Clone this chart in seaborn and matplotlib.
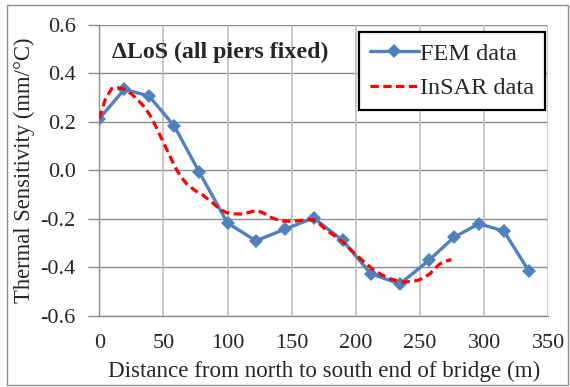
import matplotlib
matplotlib.use("Agg")
import matplotlib.pyplot as plt
import seaborn as sns
import pandas as pd
from matplotlib.patches import Rectangle

sns.set_theme(style="white")
plt.rcParams['font.family'] = ['Liberation Serif', 'DejaVu Serif']

# FEM data (distance m, thermal sensitivity mm/°C)
fem_x = [0, 19.6, 38.8, 58.4, 77.9, 100, 122, 145, 167, 189.6, 211.7, 234.3, 256.9, 276.4, 296, 315.3, 335]
fem_y = [0.213, 0.334, 0.306, 0.183, -0.007, -0.217, -0.290, -0.242, -0.196, -0.288, -0.426, -0.468, -0.371, -0.276, -0.220, -0.250, -0.416]

# InSAR data
insar_x = [0, 4.5, 9.6, 14.5, 19.5, 25, 30.4, 35, 39.5, 44, 48.6, 54, 59, 63.5, 68, 74.5, 81, 87.5, 94, 99,
           104.4, 112, 117.5, 122.6, 128, 133, 138, 143.4, 150, 158, 166.8, 172, 177, 183.5, 190, 195, 200.5,
           207, 213.5, 220, 226.5, 232, 237, 243, 248.6, 253, 257.7, 261.5, 265.5, 270, 274.5]
insar_y = [0.213, 0.290, 0.337, 0.340, 0.334, 0.315, 0.288, 0.262, 0.227, 0.182, 0.130, 0.070, 0.014, -0.025, -0.055, -0.083, -0.103, -0.130, -0.160, -0.174,
           -0.179, -0.180, -0.172, -0.165, -0.176, -0.192, -0.202, -0.209, -0.210, -0.206, -0.203, -0.222, -0.247, -0.270, -0.295, -0.322, -0.350,
           -0.380, -0.409, -0.430, -0.446, -0.455, -0.460, -0.458, -0.453, -0.442, -0.426, -0.405, -0.385, -0.374, -0.368]

x_ticks = [0, 50, 100, 150, 200, 250, 300, 350]
y_ticks = [-0.6, -0.4, -0.2, 0.0, 0.2, 0.4, 0.6]
y_tick_labels = ["-0.6", "-0.4", "-0.2", "0.0", "0.2", "0.4", "0.6"]
title_text = "ΔLoS (all piers fixed)"
x_label = "Distance from north to south end of bridge (m)"
y_label = "Thermal Sensitivity (mm/°C)"

W, H = 570, 387
L, R, T, B = 99.3, 548.3, 24.7, 316.0
fig = plt.figure(figsize=(W / 100, H / 100), dpi=100)
ax = fig.add_axes([L / W, 1 - B / H, (R - L) / W, (B - T) / H])

fem_df = pd.DataFrame({"x": fem_x, "y": fem_y})
insar_df = pd.DataFrame({"x": insar_x, "y": insar_y})

sns.lineplot(data=fem_df, x="x", y="y", ax=ax, color="#4F81BD", linewidth=2.4,
             marker="D", markersize=7.5, markeredgewidth=0, label="FEM data", sort=False, zorder=3)
sns.lineplot(data=insar_df, x="x", y="y", ax=ax, color="#FF0000", linewidth=2.3,
             linestyle=(0, (2.6, 1.4)), label="InSAR data", sort=False, zorder=4)

ax.set_xlim(0, 350)
ax.set_ylim(-0.6, 0.6)
ax.set_xticks(x_ticks)
ax.set_xticklabels([str(v) for v in x_ticks])
ax.set_yticks(y_ticks)
ax.set_yticklabels(y_tick_labels)

ax.grid(False)
for yv in y_ticks:
    ax.axhline(yv, color="#8c8c8c", linewidth=1.0, zorder=1)
for xv in x_ticks:
    ax.axvline(xv, color="#bdbdbd", linewidth=1.2, zorder=1)

for s in ["top", "right"]:
    ax.spines[s].set_visible(False)
for s in ["left", "bottom"]:
    ax.spines[s].set_color("#8c8c8c")
    ax.spines[s].set_linewidth(1.0)

ax.tick_params(axis="y", which="major", length=8, width=1.0, color="#8c8c8c", pad=9, labelsize=16, left=True)
ax.tick_params(axis="x", which="major", length=0, pad=13, labelsize=16)

ax.set_xlabel(x_label, fontsize=16.6)
ax.set_ylabel(y_label, fontsize=16.3)
ax.xaxis.set_label_coords((324 - L) / (R - L), -(371 - B) / (B - T))
ax.yaxis.set_label_coords(-(L - 24) / (R - L), (B - 170) / (B - T))
ax.xaxis.label.set_va("center")
ax.yaxis.label.set_va("center")

fig.text(112 / W, 1 - 52 / H, title_text, fontsize=17.2, fontweight="bold", ha="left", va="center")

leg = ax.legend(loc="upper left", bbox_to_anchor=((359 - L) / (R - L), 1 - (32 - T) / (B - T)),
                fontsize=17.5, frameon=True, fancybox=False, framealpha=1, edgecolor="black",
                handlelength=2.0, handletextpad=0.05, borderpad=0.45, labelspacing=0.5, numpoints=1,
                borderaxespad=0)
leg.get_frame().set_linewidth(1.6)

fig.patches.append(Rectangle((7 / W, 1 - 385 / H), (568 - 7) / W, (385 - 5) / H, transform=fig.transFigure,
                             fill=False, edgecolor="#8c8c8c", linewidth=1.0))

fig.savefig("out.png", dpi=100)
